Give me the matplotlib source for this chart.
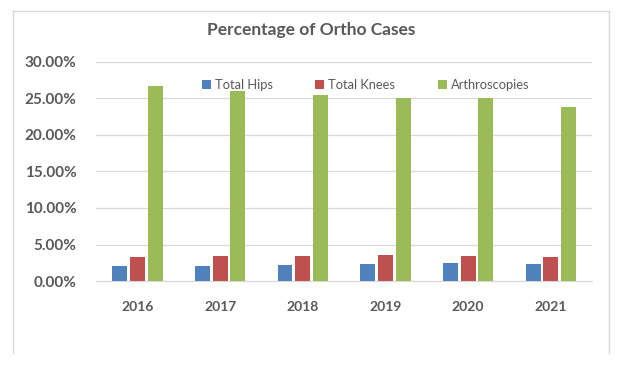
import matplotlib
matplotlib.use('Agg')
import matplotlib.pyplot as plt
import numpy as np
from matplotlib.ticker import FuncFormatter
from matplotlib.lines import Line2D

years = ['2016', '2017', '2018', '2019', '2020', '2021']
hips = [2.05, 2.05, 2.2, 2.3, 2.5, 2.3]
knees = [3.3, 3.4, 3.4, 3.55, 3.4, 3.3]
arthroscopies = [26.7, 26.0, 25.45, 25.0, 25.1, 23.8]

series_names = ['Total Hips', 'Total Knees', 'Arthroscopies']
colors = ['#4F81BD', '#C0504D', '#9BBB59']
text_color = '#595959'

plt.rcParams['font.family'] = ['Lato', 'DejaVu Sans']

fig = plt.figure(figsize=(6.24, 3.67), dpi=100)
ax = fig.add_axes([0.154, 0.234, 0.795, 0.598])

x = np.arange(len(years))
w = 0.18
offsets = [-0.215, 0, 0.215]
for vals, off, c, name in zip([hips, knees, arthroscopies], offsets, colors, series_names):
    ax.bar(x + off, vals, width=w, color=c, label=name, zorder=3)

ax.set_xlim(-0.5, len(years) - 0.5)
ax.set_ylim(0, 30)
ax.set_yticks(np.arange(0, 31, 5))
ax.yaxis.set_major_formatter(FuncFormatter(lambda v, p: f'{v:.2f}%'))
ax.set_xticks(x)
ax.set_xticklabels(years)
ax.grid(axis='y', color='#D9D9D9', linewidth=0.9, zorder=0)
for s in ['top', 'right', 'left']:
    ax.spines[s].set_visible(False)
ax.spines['bottom'].set_color('#D9D9D9')
ax.tick_params(axis='both', length=0, colors=text_color)
ax.tick_params(axis='y', labelsize=11, pad=14)
ax.tick_params(axis='x', labelsize=10, pad=14)
for lbl in ax.get_xticklabels() + ax.get_yticklabels():
    lbl.set_fontweight('bold')

fig.text(0.499, 0.918, 'Percentage of Ortho Cases', ha='center', va='center',
         fontsize=12.5, fontweight='bold', color=text_color)

fig.legend(loc='center', bbox_to_anchor=(0.586, 0.768), ncol=3, frameon=False,
           fontsize=9.3, labelcolor=text_color, handlelength=0.7, handleheight=0.7,
           handletextpad=0.3, columnspacing=3.3)

# chart border (left, top, right)
bx0, bx1, by0, by1 = 13 / 624, 609 / 624, 1 - 353 / 367, 1 - 11 / 367
for xs, ys in [([bx0, bx0], [by0, by1]), ([bx0, bx1], [by1, by1]), ([bx1, bx1], [by1, by0])]:
    fig.add_artist(Line2D(xs, ys, color='#D9D9D9', linewidth=1))

fig.savefig('out.png', dpi=100)
